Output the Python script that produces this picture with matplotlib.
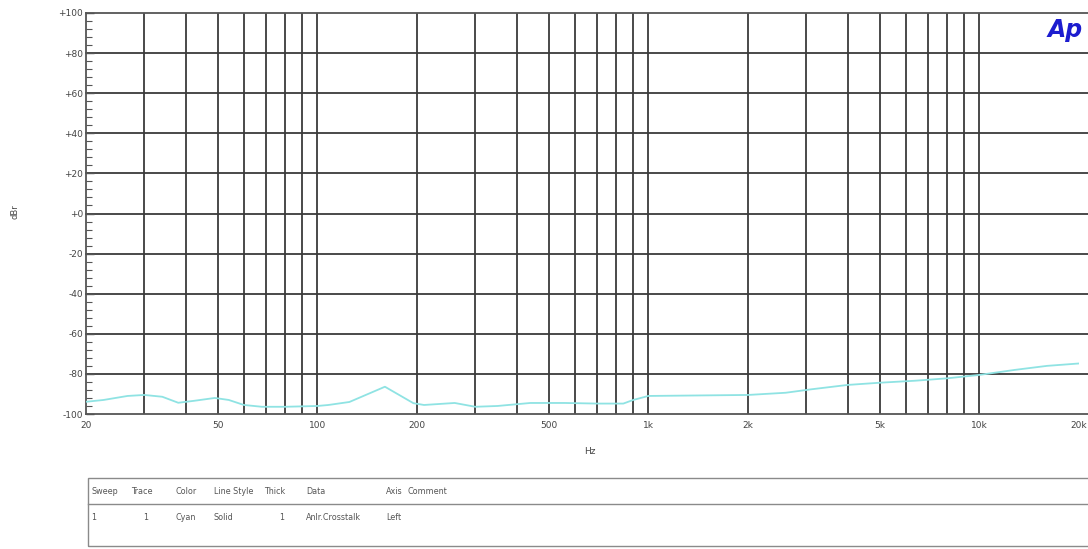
import matplotlib
matplotlib.use("Agg")
import matplotlib.pyplot as plt
from matplotlib.patches import Rectangle
from matplotlib.lines import Line2D
from matplotlib.ticker import FixedLocator, NullLocator

# ---- data ----
freq_hz = [20, 22.6, 26.7, 30, 34, 38, 42.5, 49, 54, 60, 68, 80, 100, 108, 125, 160,
           195, 210, 260, 300, 350, 440, 560, 700, 840, 900, 1000, 2000, 2600, 3100,
           4000, 5000, 6400, 8000, 10000, 12800, 16000, 20000]
crosstalk_db = [-93.9, -93.0, -91.0, -90.5, -91.4, -94.4, -93.4, -92.0, -93.0, -95.5,
                -96.4, -96.4, -96.0, -95.5, -94.0, -86.4, -94.6, -95.5, -94.5, -96.4,
                -96.0, -94.5, -94.5, -94.8, -94.8, -93.0, -91.0, -90.5, -89.4, -87.7,
                -85.5, -84.4, -83.4, -82.2, -80.5, -78.0, -76.0, -74.8]

y_ticks = [-100, -80, -60, -40, -20, 0, 20, 40, 60, 80, 100]
y_tick_labels = ["-100", "-80", "-60", "-40", "-20", "+0", "+20", "+40", "+60", "+80", "+100"]
x_ticks = [20, 50, 100, 200, 500, 1000, 2000, 5000, 10000, 20000]
x_tick_labels = ["20", "50", "100", "200", "500", "1k", "2k", "5k", "10k", "20k"]
x_grid = [30, 40, 50, 60, 70, 80, 90, 100, 200, 300, 400, 500, 600, 700, 800, 900,
          1000, 2000, 3000, 4000, 5000, 6000, 7000, 8000, 9000, 10000]

table_headers = ["Sweep", "Trace", "Color", "Line Style", "Thick", "Data", "Axis", "Comment"]
table_row = ["1", "1", "Cyan", "Solid", "1", "Anlr.Crosstalk", "Left", ""]

# ---- figure ----
W, H = 1088, 549
fig = plt.figure(figsize=(W / 100, H / 100), dpi=100)
fig.patch.set_facecolor("white")

def fx(px):
    return px / W

def fy(py):
    return 1 - py / H

ax_left, ax_right, ax_top, ax_bot = 86, 1079, 13, 414
ax = fig.add_axes([fx(ax_left), fy(ax_bot), fx(ax_right - ax_left), (ax_bot - ax_top) / H])
ax.set_xscale("log")
ax.set_xlim(20, 20000)
ax.set_ylim(-100, 100)

gridc = "#3a3a3a"
ext = (1100 - ax_left) / (ax_right - ax_left)
for f in x_grid:
    ax.axvline(f, color=gridc, lw=1.3, zorder=1)
for yv in y_ticks:
    ax.axhline(yv, xmin=0, xmax=ext, color=gridc if abs(yv) != 100 else "#555555",
               lw=1.3, zorder=1, clip_on=False)

ax.plot(freq_hz, crosstalk_db, color="#8fe3e3", lw=1.3, zorder=3)

for side in ["top", "right", "bottom"]:
    ax.spines[side].set_visible(False)
ax.spines["left"].set_color("#555555")
ax.spines["left"].set_linewidth(1.3)

ax.yaxis.set_major_locator(FixedLocator(y_ticks))
ax.set_yticklabels(y_tick_labels)
ax.yaxis.set_minor_locator(FixedLocator([v for v in range(-100, 101, 4) if v % 20 != 0]))
ax.tick_params(axis="y", which="major", direction="in", length=6, width=1.0,
               color="#555555", labelsize=6.5, labelcolor="#444444", pad=2)
ax.tick_params(axis="y", which="minor", direction="in", length=4, width=0.8, color="#555555")

ax.xaxis.set_major_locator(FixedLocator(x_ticks))
ax.xaxis.set_minor_locator(NullLocator())
ax.set_xticklabels(x_tick_labels)
ax.tick_params(axis="x", which="major", length=0, labelsize=6.5, labelcolor="#444444", pad=5)

fig.text(fx(590), fy(452), "Hz", fontsize=6.5, color="#444444", ha="center", va="center")
fig.text(fx(15), fy(212), "dBr", fontsize=6, color="#444444", ha="center", va="center",
         rotation=90)

# Logo
fig.text(fx(1048), fy(30), "Ap", fontsize=17, fontweight="bold", fontstyle="italic",
         color="#1c1ccf", ha="left", va="center")

# ---- table ----
tb_left, tb_top, tb_bot = 88, 478, 546
fig.patches.append(Rectangle((fx(tb_left), fy(tb_bot)), fx(1100 - tb_left), (tb_bot - tb_top) / H,
                             transform=fig.transFigure, fill=False, edgecolor="#8a8a8a",
                             lw=1.0))
fig.lines.append(Line2D([fx(tb_left), fx(1100)], [fy(504), fy(504)],
                        transform=fig.transFigure, color="#8a8a8a", lw=1.0))
col_x = [91, 131, 176, 214, 264, 306, 386, 408]
for cx, h in zip(col_x, table_headers):
    fig.text(fx(cx), fy(492), h, fontsize=5.8, color="#555555", ha="left", va="center")
row_x = [91, 143, 176, 214, 279, 306, 386, 408]
for cx, v in zip(row_x, table_row):
    fig.text(fx(cx), fy(518), v, fontsize=5.8, color="#555555", ha="left", va="center")

fig.savefig("out.png", dpi=100, facecolor="white")
